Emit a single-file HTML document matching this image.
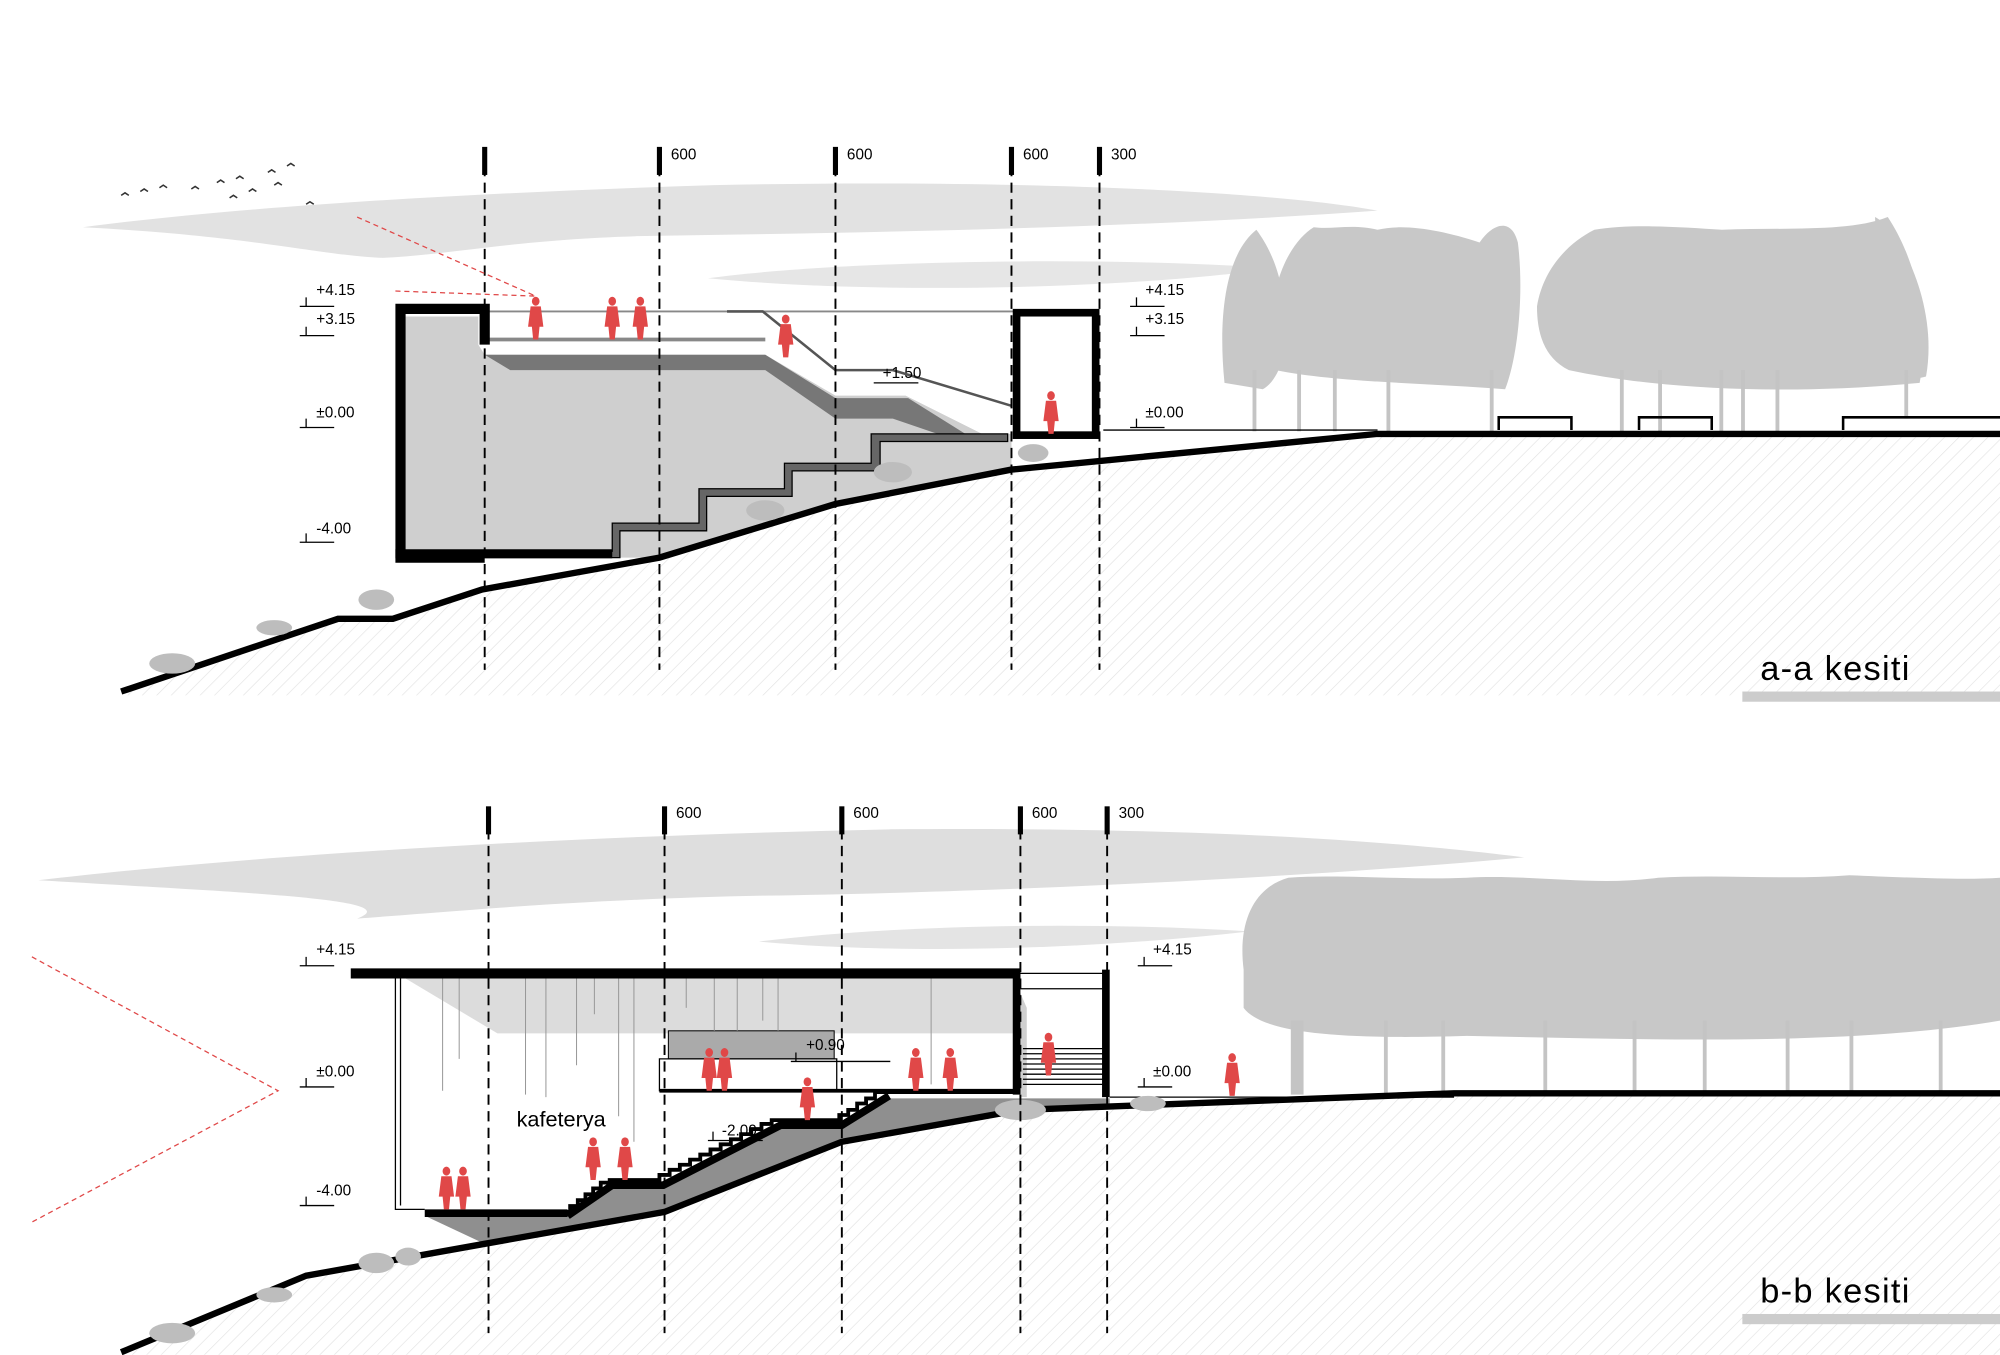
<!DOCTYPE html>
<html><head><meta charset="utf-8"><style>
html,body{margin:0;padding:0;background:#fff;}
svg{display:block}
text{font-family:"Liberation Sans",sans-serif;}
</style></head><body>
<svg width="2000" height="1355" viewBox="0 0 1568 1062" xmlns="http://www.w3.org/2000/svg">
<defs>
<pattern id="h" width="8" height="8" patternUnits="userSpaceOnUse" patternTransform="rotate(45)">
<line x1="0" y1="0" x2="0" y2="8" stroke="#e2e2e2" stroke-width="1"/></pattern>
<g id="p"><ellipse cx="0" cy="-30" rx="3" ry="3.5" fill="#e04848"/><path d="M-4,-26 L4,-26 L6,-10 L3,-10 L2,0 L-2,0 L-3,-10 L-6,-10 Z" fill="#e04848"/></g>
</defs>

<!-- ========== a-a ========== -->
<g>
<path d="M65,178 C200,160 400,150 560,145 C800,140 1000,150 1080,165 C900,178 700,182 500,185 C400,188 350,200 300,202 C250,200 200,185 65,178Z" fill="#e2e2e2"/>
<path d="M555,218 C650,205 850,200 1000,210 C900,225 700,232 555,218Z" fill="#e6e6e6"/>
<path d="M95,542 L265,485 L308,485 L378,462 L517,437 L655,395 L793,368 L1080,340 L1568,340 L1568,545 L95,545Z" fill="url(#h)"/>
<g fill="#c8c8c8">
<path d="M960,300 C955,250 960,200 985,180 C1000,200 1010,230 1005,260 C1010,280 1000,300 990,305Z"/>
<path d="M1000,280 C990,230 1010,190 1030,178 C1045,180 1060,175 1080,180 C1100,175 1130,180 1160,190 C1170,175 1185,170 1190,190 C1195,230 1190,280 1180,305 C1120,300 1050,300 1000,290Z"/>
<path d="M1205,240 C1210,210 1230,190 1250,180 C1280,175 1320,178 1350,180 C1400,178 1450,182 1480,170 C1500,200 1515,250 1505,300 C1400,310 1300,305 1230,290 C1210,280 1205,260 1205,240Z"/>
<path d="M1470,170 C1490,180 1520,240 1510,295 C1495,300 1480,290 1475,260Z"/>
</g>
<g fill="#c4c4c4">
<rect x="982" y="290" width="3" height="48"/><rect x="1017" y="290" width="3" height="48"/><rect x="1045" y="290" width="3" height="48"/><rect x="1087" y="290" width="3" height="48"/><rect x="1168" y="290" width="3" height="48"/><rect x="1270" y="290" width="3" height="48"/><rect x="1300" y="290" width="3" height="48"/><rect x="1348" y="290" width="3" height="48"/><rect x="1365" y="290" width="3" height="48"/><rect x="1392" y="290" width="3" height="48"/><rect x="1493" y="290" width="3" height="38"/>
</g>
<path d="M1175,337 V327 H1232 V337 M1285,337 V327 H1342 V337 M1445,337 V327 H1568" fill="none" stroke="#000" stroke-width="2"/>
<path d="M318,248 L375,248 L375,270 L380,278 L600,278 L655,310 L710,310 L770,340 L793,340 L793,368 L655,395 L517,437 L380,437 L318,437Z" fill="#cfcfcf"/>
<path d="M380,278 L600,278 L655,312 L712,312 L760,342 L735,340 L700,328 L655,328 L600,290 L400,290Z" fill="#777"/>
<path d="M378,432 L480,432 L480,410 L548,410 L548,383 L615,383 L615,363 L683,363 L683,340 L790,340 L790,346 L690,346 L690,369 L621,369 L621,389 L554,389 L554,416 L486,416 L486,437 L378,437Z" fill="#666" stroke="#000" stroke-width="1"/>
<path d="M375,244 L860,244" stroke="#888" stroke-width="1.5"/>
<path d="M378,266 L600,266" stroke="#888" stroke-width="3"/>
<path d="M570,244 L598,244 L655,290 L700,290 L793,318" fill="none" stroke="#555" stroke-width="2"/>
<path d="M685,300 L720,300" stroke="#000"/>
<path d="M310,242 H380 V270 M314,242 V437 H380 L380,437" fill="none" stroke="#000" stroke-width="8"/>
<path d="M310,434 L480,434" stroke="#000" stroke-width="7"/>
<rect x="797" y="245" width="62" height="96" fill="none" stroke="#000" stroke-width="6"/>
<path d="M95,542 L265,485 L308,485 L378,462 L517,437 L655,395 L793,368 L1080,340 L1568,340" fill="none" stroke="#000" stroke-width="5"/>
<path d="M865,337 L1080,337" stroke="#000" stroke-width="1"/>
<g fill="#bdbdbd"><ellipse cx="295" cy="470" rx="14" ry="8"/><ellipse cx="215" cy="492" rx="14" ry="6"/><ellipse cx="135" cy="520" rx="18" ry="8"/><ellipse cx="600" cy="400" rx="15" ry="8"/><ellipse cx="700" cy="370" rx="15" ry="8"/><ellipse cx="810" cy="355" rx="12" ry="7"/></g>
<g stroke="#000" stroke-width="1.5" stroke-dasharray="8,5"><line x1="380" y1="130" x2="380" y2="525"/><line x1="517" y1="130" x2="517" y2="525"/><line x1="655" y1="130" x2="655" y2="525"/><line x1="793" y1="130" x2="793" y2="525"/><line x1="862" y1="130" x2="862" y2="525"/></g>
<g fill="#000"><rect x="378" y="115" width="4" height="22"/><rect x="515" y="115" width="4" height="22"/><rect x="653" y="115" width="4" height="22"/><rect x="791" y="115" width="4" height="22"/><rect x="860" y="115" width="4" height="22"/></g>
<g font-size="12"><text x="526" y="125">600</text><text x="664" y="125">600</text><text x="802" y="125">600</text><text x="871" y="125">300</text></g>
<g font-size="12">
<text x="248" y="231">+4.15</text><text x="248" y="254">+3.15</text><text x="248" y="327">±0.00</text><text x="248" y="418">-4.00</text>
<text x="898" y="231">+4.15</text><text x="898" y="254">+3.15</text><text x="898" y="327">±0.00</text><text x="692" y="296">+1.50</text>
</g>
<g stroke="#000" fill="none"><path d="M235,240 H262 M240,233 V240 M235,263 H262 M240,256 V263 M235,335 H262 M240,328 V335 M235,425 H262 M240,418 V425 M886,240 H913 M891,233 V240 M886,263 H913 M891,256 V263 M886,335 H913 M891,328 V335"/></g>
<path d="M280,170 L420,232 M310,228 L420,232" stroke="#e04848" stroke-dasharray="4,3" fill="none"/>
<use href="#p" x="420" y="266"/><use href="#p" x="480" y="266"/><use href="#p" x="502" y="266"/><use href="#p" x="616" y="280"/><use href="#p" x="824" y="340"/>
<g stroke="#333" fill="none" stroke-width="1.2"><path d="M95,153 l3,-2 l3,2 M110,150 l3,-2 l3,2 M125,147 l3,-2 l3,2 M150,148 l3,-2 l3,2 M170,143 l3,-2 l3,2 M185,140 l3,-2 l3,2 M195,150 l3,-2 l3,2 M210,135 l3,-2 l3,2 M225,130 l3,-2 l3,2 M240,160 l3,-2 l3,2 M215,145 l3,-2 l3,2 M180,155 l3,-2 l3,2"/></g>
<text x="1380" y="533" font-size="27" letter-spacing="1">a-a kesiti</text>
<rect x="1366" y="542" width="202" height="8" fill="#ccc"/>
</g>

<!-- ========== b-b ========== -->
<g>
<path d="M30,690 C200,670 450,655 700,650 C950,648 1100,660 1195,672 C1000,690 750,700 600,702 C450,705 350,715 280,720 C320,705 200,700 30,690Z" fill="#dedede"/>
<path d="M595,738 C700,725 850,722 980,730 C850,745 700,748 595,738Z" fill="#e4e4e4"/>
<path d="M95,1060 L240,1000 L380,975 L521,950 L660,895 L800,870 L1140,857 L1568,857 L1568,1062 L95,1062Z" fill="url(#h)"/>
<g fill="#c8c8c8">
<path d="M975,760 C970,720 985,695 1010,688 C1050,685 1100,690 1150,688 C1200,685 1250,695 1300,688 C1350,685 1400,690 1450,686 C1500,688 1540,690 1568,688 L1568,800 C1450,820 1300,815 1150,812 C1050,815 990,810 975,790Z"/>
</g>
<g fill="#c4c4c4"><rect x="1012" y="800" width="10" height="58"/><rect x="1085" y="800" width="3" height="58"/><rect x="1130" y="800" width="3" height="58"/><rect x="1210" y="800" width="3" height="58"/><rect x="1280" y="800" width="3" height="58"/><rect x="1335" y="800" width="3" height="58"/><rect x="1400" y="800" width="3" height="58"/><rect x="1450" y="800" width="3" height="58"/><rect x="1520" y="800" width="3" height="58"/></g>
<path d="M318,767 L795,767 L795,810 L390,810Z" fill="#dcdcdc"/>
<path d="M795,767 L805,790 L805,860 L800,860Z" fill="#cfcfcf"/>
<rect x="524" y="808" width="130" height="22" fill="#aaa" stroke="#000" stroke-width="0.8"/>
<path d="M517,830 H656 V855 H517Z" fill="#fff" stroke="#000" stroke-width="1"/>
<!-- soil under building -->
<path d="M333,953 L445,953 L478,930 L520,930 L612,883 L660,883 L694,861 L870,861 L870,866 L800,870 L660,895 L521,950 L380,975Z" fill="#8f8f8f"/>
<!-- stairs -->
<path d="M440,950 H447 V945.4 H453 V940.8 H459 V936.2 H465 V931.6 H471 V927 H478 V925 H517 V921 H525 V917 H533 V913 H541 V909 H549 V905 H557 V901 H565 V897 H573 V893 H581 V889 H589 V885 H597 V881 H605 V878 H658 V874 H665 V870 H672 V865 H679 V861 H686 V856 H800" fill="none" stroke="#000" stroke-width="3"/>
<path d="M445,953 L480,929 L520,929 L612,882 L660,882 L697,859 M333,951 H445" fill="none" stroke="#000" stroke-width="6"/>
<path d="M517,855 L800,855" stroke="#000" stroke-width="3"/>
<path d="M275,763 H800" stroke="#000" stroke-width="8"/>
<path d="M797,760 V858" stroke="#000" stroke-width="6"/>
<path d="M867,760 V860" stroke="#000" stroke-width="6"/>
<path d="M800,763 H867 M800,775 H867" stroke="#000" stroke-width="1"/>
<g stroke="#000" stroke-width="1"><path d="M802,822 H865 M802,826 H865 M802,830 H865 M802,834 H865 M802,838 H865 M802,842 H865 M802,846 H865 M802,850 H865"/></g>
<path d="M310,767 V948 H333 M314,767 V945" fill="none" stroke="#000" stroke-width="1"/>
<g stroke="#999" stroke-width="0.8"><line x1="347" y1="767" x2="347" y2="855"/><line x1="360" y1="767" x2="360" y2="830"/><line x1="412" y1="767" x2="412" y2="858"/><line x1="428" y1="767" x2="428" y2="860"/><line x1="452" y1="767" x2="452" y2="835"/><line x1="466" y1="767" x2="466" y2="795"/><line x1="485" y1="767" x2="485" y2="875"/><line x1="497" y1="767" x2="497" y2="895"/><line x1="538" y1="767" x2="538" y2="790"/><line x1="560" y1="767" x2="560" y2="808"/><line x1="578" y1="767" x2="578" y2="808"/><line x1="598" y1="767" x2="598" y2="800"/><line x1="610" y1="767" x2="610" y2="808"/><line x1="730" y1="767" x2="730" y2="850"/></g>
<path d="M95,1060 L240,1000 L380,975 L521,950 L660,895 L800,870 L1140,857 L1568,857" fill="none" stroke="#000" stroke-width="5"/>
<path d="M870,860 L1140,860" stroke="#000" stroke-width="1"/>
<g fill="#bdbdbd"><ellipse cx="295" cy="990" rx="14" ry="8"/><ellipse cx="320" cy="985" rx="10" ry="7"/><ellipse cx="215" cy="1015" rx="14" ry="6"/><ellipse cx="135" cy="1045" rx="18" ry="8"/><ellipse cx="800" cy="870" rx="20" ry="8"/><ellipse cx="900" cy="865" rx="14" ry="6"/></g>
<g stroke="#000" stroke-width="1.5" stroke-dasharray="8,5"><line x1="383" y1="650" x2="383" y2="1045"/><line x1="521" y1="650" x2="521" y2="1045"/><line x1="660" y1="650" x2="660" y2="1045"/><line x1="800" y1="650" x2="800" y2="1045"/><line x1="868" y1="650" x2="868" y2="1045"/></g>
<g fill="#000"><rect x="381" y="632" width="4" height="22"/><rect x="519" y="632" width="4" height="22"/><rect x="658" y="632" width="4" height="22"/><rect x="798" y="632" width="4" height="22"/><rect x="866" y="632" width="4" height="22"/></g>
<g font-size="12"><text x="530" y="641">600</text><text x="669" y="641">600</text><text x="809" y="641">600</text><text x="877" y="641">300</text></g>
<g font-size="12">
<text x="248" y="748">+4.15</text><text x="248" y="844">±0.00</text><text x="248" y="937">-4.00</text>
<text x="904" y="748">+4.15</text><text x="904" y="844">±0.00</text><text x="632" y="823">+0.90</text><text x="566" y="890">-2.00</text>
</g>
<g stroke="#000" fill="none"><path d="M235,757 H262 M240,750 V757 M235,852 H262 M240,845 V852 M235,945 H262 M240,938 V945 M892,757 H919 M897,750 V757 M892,852 H919 M897,845 V852 M620,832 H698 M624,825 V832 M555,894 H598 M559,887 V894"/></g>
<text x="405" y="883" font-size="17">kafeterya</text>
<path d="M25,750 L218,855 L25,958" stroke="#e04848" stroke-dasharray="4,3" fill="none"/>
<use href="#p" x="718" y="855"/><use href="#p" x="745" y="855"/><use href="#p" x="822" y="843"/><use href="#p" x="966" y="859"/><use href="#p" x="633" y="878"/>
<use href="#p" x="556" y="855"/><use href="#p" x="568" y="855"/><use href="#p" x="350" y="948"/><use href="#p" x="363" y="948"/><use href="#p" x="465" y="925"/><use href="#p" x="490" y="925"/>
<text x="1380" y="1021" font-size="27" letter-spacing="1">b-b kesiti</text>
<rect x="1366" y="1030" width="202" height="8" fill="#ccc"/>
</g>
</svg>
</body></html>
